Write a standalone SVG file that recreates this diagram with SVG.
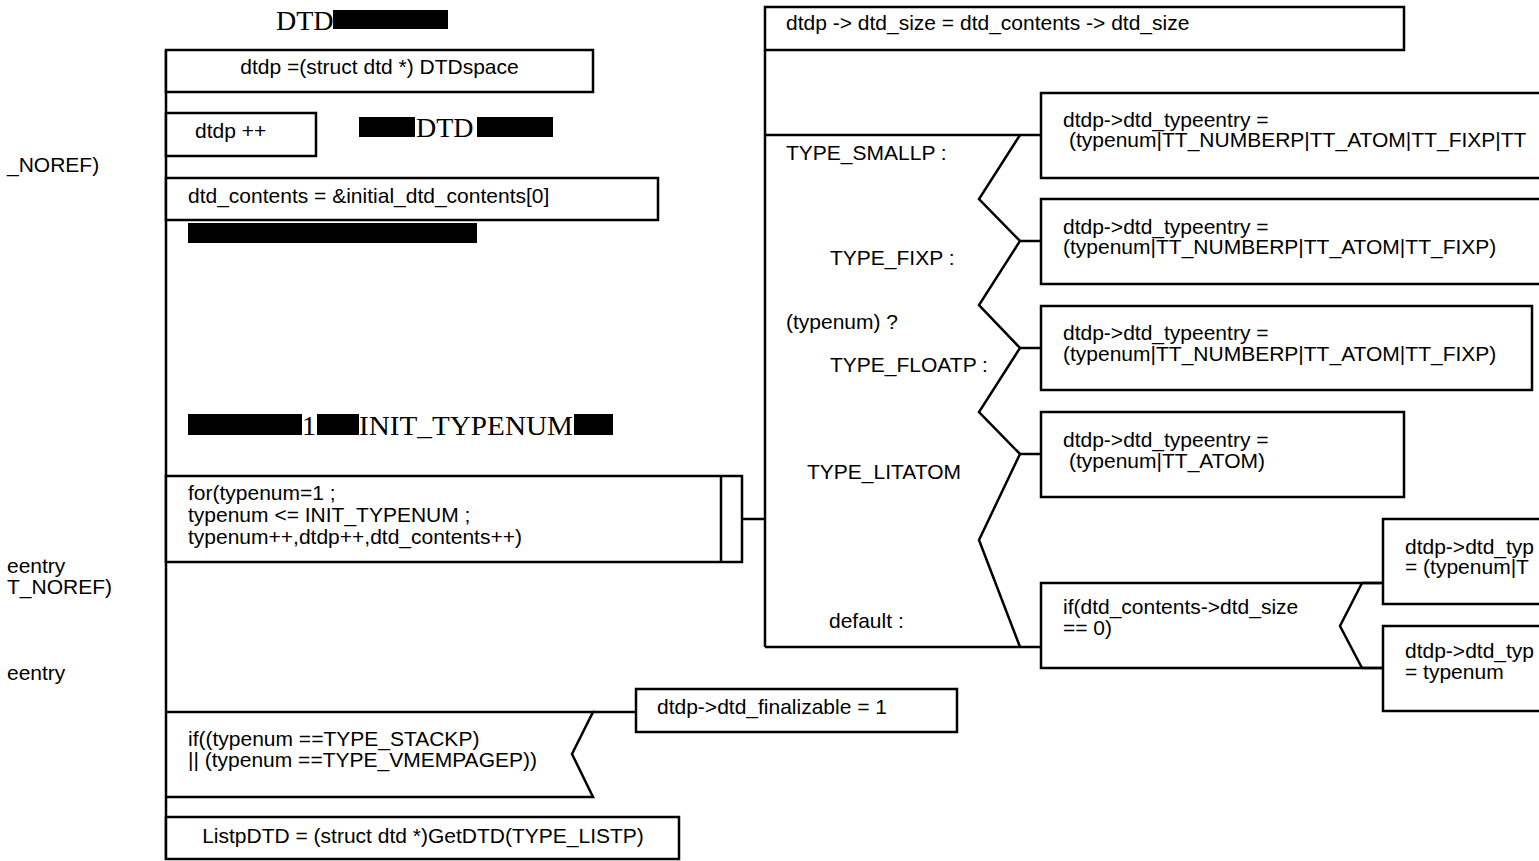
<svg xmlns="http://www.w3.org/2000/svg" width="1539" height="861" viewBox="0 0 1539 861">
<style>
.b{fill:#fff;stroke:#000;stroke-width:2.5}
.l{fill:none;stroke:#000;stroke-width:2.5;stroke-linejoin:miter}
.t{font-family:"Liberation Sans",Arial,sans-serif;font-size:21px;fill:#000}
.s{font-family:"Liberation Serif","Times New Roman",serif;font-size:28px;fill:#000}
.k{fill:#000}
</style>
<rect width="1539" height="861" fill="#fff"/>
<g id="connectors">
<line class="l" x1="166" y1="50" x2="166" y2="860"/>
<line class="l" x1="742" y1="519" x2="765" y2="519"/>
<line class="l" x1="765" y1="50" x2="765" y2="647"/>
<line class="l" x1="765" y1="135" x2="1041" y2="135"/>
<line class="l" x1="765" y1="647" x2="1041" y2="647"/>
<polyline class="l" points="1020,135 979,199 1020,241 979,305 1020,348 979,412 1020,454 979,540 1020,647"/>
<line class="l" x1="1020" y1="241" x2="1041" y2="241"/>
<line class="l" x1="1020" y1="348" x2="1041" y2="348"/>
<line class="l" x1="1020" y1="454" x2="1041" y2="454"/>
<line class="l" x1="593" y1="712" x2="636" y2="712"/>
<line class="l" x1="1362" y1="583" x2="1383" y2="583"/>
<line class="l" x1="1362" y1="668" x2="1383" y2="668"/>
</g>
<g id="labels">
<text class="s" x="276" y="30">DTD</text><rect class="k" x="333" y="10" width="115" height="19"/>
<rect class="k" x="359" y="117" width="56" height="20"/><text class="s" x="416" y="137">DTD</text><rect class="k" x="477" y="117" width="76" height="20"/>
<rect class="k" x="188" y="223" width="289" height="20"/>
<rect class="k" x="188" y="414" width="114" height="21"/><text class="s" x="302" y="435">1</text><rect class="k" x="317" y="414" width="42" height="21"/><text class="s" x="359" y="435" textLength="214" lengthAdjust="spacingAndGlyphs">INIT_TYPENUM</text><rect class="k" x="574" y="414" width="39" height="21"/>
<text class="t" x="7" y="172">_NOREF)</text>
<text class="t" x="7" y="573">eentry</text>
<text class="t" x="7" y="594">T_NOREF)</text>
<text class="t" x="7" y="680">eentry</text>
<text class="t" x="786" y="160">TYPE_SMALLP :</text>
<text class="t" x="830" y="265">TYPE_FIXP :</text>
<text class="t" x="786" y="329">(typenum) ?</text>
<text class="t" x="830" y="372">TYPE_FLOATP :</text>
<text class="t" x="807" y="479">TYPE_LITATOM</text>
<text class="t" x="829" y="628">default :</text>
</g>
<g id="n-dtdspace"><rect class="b" x="166" y="50" width="427" height="42"/><text class="t" x="379.5" y="74" text-anchor="middle">dtdp =(struct dtd *) DTDspace</text></g>
<g id="n-dtdpinc"><rect class="b" x="166" y="113" width="150" height="43"/><text class="t" x="195" y="138">dtdp ++</text></g>
<g id="n-contents"><rect class="b" x="166" y="178" width="492" height="42"/><text class="t" x="188" y="203">dtd_contents = &amp;initial_dtd_contents[0]</text></g>
<g id="n-for"><rect class="b" x="166" y="476" width="576" height="86"/><line class="l" x1="721" y1="476" x2="721" y2="562"/>
<text class="t" x="188" y="500">for(typenum=1 ;</text><text class="t" x="188" y="522">typenum &lt;= INIT_TYPENUM ;</text><text class="t" x="188" y="544">typenum++,dtdp++,dtd_contents++)</text></g>
<g id="n-if-stack"><polyline class="l" points="166,712 593,712 572,754 593,797 166,797"/>
<text class="t" x="188" y="746">if((typenum ==TYPE_STACKP)</text><text class="t" x="188" y="767">|| (typenum ==TYPE_VMEMPAGEP))</text></g>
<g id="n-final"><rect class="b" x="636" y="689" width="321" height="43"/><text class="t" x="657" y="714">dtdp-&gt;dtd_finalizable = 1</text></g>
<g id="n-listp"><rect class="b" x="166" y="817" width="513" height="42"/><text class="t" x="423" y="843" text-anchor="middle">ListpDTD = (struct dtd *)GetDTD(TYPE_LISTP)</text></g>
<g id="n-size"><rect class="b" x="765" y="7" width="639" height="43"/><text class="t" x="786" y="30">dtdp -&gt; dtd_size = dtd_contents -&gt; dtd_size</text></g>
<g id="n-smallp"><rect class="b" x="1041" y="93" width="510" height="85"/><text class="t" x="1063" y="127">dtdp-&gt;dtd_typeentry =</text><text class="t" x="1069" y="147">(typenum|TT_NUMBERP|TT_ATOM|TT_FIXP|TT</text></g>
<g id="n-fixp"><rect class="b" x="1041" y="199" width="510" height="85"/><text class="t" x="1063" y="234">dtdp-&gt;dtd_typeentry  =</text><text class="t" x="1063" y="254">(typenum|TT_NUMBERP|TT_ATOM|TT_FIXP)</text></g>
<g id="n-floatp"><rect class="b" x="1041" y="306" width="491" height="84"/><text class="t" x="1063" y="340">dtdp-&gt;dtd_typeentry  =</text><text class="t" x="1063" y="361">(typenum|TT_NUMBERP|TT_ATOM|TT_FIXP)</text></g>
<g id="n-litatom"><rect class="b" x="1041" y="412" width="363" height="85"/><text class="t" x="1063" y="447">dtdp-&gt;dtd_typeentry =</text><text class="t" x="1069" y="468">(typenum|TT_ATOM)</text></g>
<g id="n-if-size"><polyline class="l" points="1383,583 1041,583 1041,668 1383,668"/><polyline class="l" points="1362,583 1340,626 1362,668"/>
<text class="t" x="1063" y="614">if(dtd_contents-&gt;dtd_size</text><text class="t" x="1063" y="635">== 0)</text></g>
<g id="n-then"><rect class="b" x="1383" y="519" width="170" height="85"/><text class="t" x="1405" y="554">dtdp-&gt;dtd_typ</text><text class="t" x="1405" y="574">= (typenum|T</text></g>
<g id="n-else"><rect class="b" x="1383" y="626" width="170" height="85"/><text class="t" x="1405" y="658">dtdp-&gt;dtd_typ</text><text class="t" x="1405" y="679">= typenum</text></g>
</svg>
